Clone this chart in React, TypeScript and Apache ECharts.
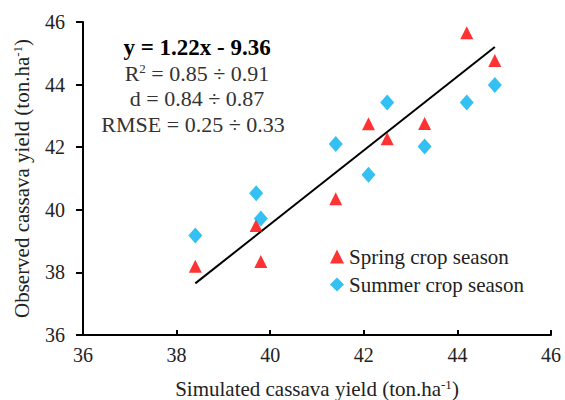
import React, { useEffect, useRef } from "react";
import * as echarts from "echarts";

const springX = [38.4, 39.7, 39.8, 41.4, 42.1, 42.5, 43.3, 44.2, 44.8];
const springY = [38.2, 39.5, 38.35, 40.35, 42.75, 42.27, 42.76, 45.66, 44.77];
const summerX = [38.4, 39.7, 39.8, 41.4, 42.1, 42.5, 43.3, 44.2, 44.8];
const summerY = [39.18, 40.53, 39.72, 42.1, 41.12, 43.43, 42.02, 43.43, 43.99];
const lineX = [38.4, 44.8];
const lineY = [37.65, 45.2];
const seriesNames = ["Spring crop season", "Summer crop season"];
const statLines = ["y = 1.22x - 9.36", "= 0.85 ÷ 0.91", "d = 0.84 ÷ 0.87", "RMSE = 0.25 ÷ 0.33"];

const FONT = "'Liberation Serif', 'Times New Roman', serif";

export default function App() {
  const ref = useRef<HTMLDivElement>(null);
  useEffect(() => {
    if (!ref.current) return;
    const chart = echarts.init(ref.current, undefined, { renderer: "svg" });
    chart.setOption({
      animation: false,
      backgroundColor: "#ffffff",
      textStyle: { fontFamily: FONT },
      grid: { left: 83, right: 14, top: 22, bottom: 65, containLabel: false, outerBoundsMode: "none" },
      xAxis: {
        type: "value",
        min: 36,
        max: 46,
        interval: 2,
        splitLine: { show: false },
        axisLine: { onZero: false, lineStyle: { color: "#000", width: 2 } },
        axisTick: { inside: true, length: 5, lineStyle: { color: "#000", width: 2 } },
        axisLabel: { color: "#222", fontSize: 20, fontFamily: FONT, margin: 10 },
        name: "Simulated cassava yield (ton.ha{sup|-1})",
        nameLocation: "middle",
        nameGap: 43,
        nameTextStyle: {
          color: "#222",
          fontSize: 21,
          fontFamily: FONT,
          rich: { sup: { fontSize: 13, fontFamily: FONT, color: "#222", padding: [0, 0, 9, 0] } },
        },
      },
      yAxis: {
        type: "value",
        min: 36,
        max: 46,
        interval: 2,
        splitLine: { show: false },
        axisLine: { onZero: false, lineStyle: { color: "#000", width: 2 } },
        axisTick: { inside: false, length: 7, lineStyle: { color: "#000", width: 2 } },
        axisLabel: { color: "#222", fontSize: 20, fontFamily: FONT, margin: 18 },
        name: "Observed cassava yield (ton.ha{sup|-1})",
        nameLocation: "middle",
        nameGap: 50,
        nameTextStyle: {
          color: "#222",
          fontSize: 21,
          fontFamily: FONT,
          rich: { sup: { fontSize: 13, fontFamily: FONT, color: "#222", padding: [0, 0, 9, 0] } },
        },
      },
      legend: {
        data: seriesNames,
        orient: "vertical",
        left: 325,
        top: 241,
        itemWidth: 14,
        itemHeight: 14,
        itemGap: 7,
        textStyle: { fontSize: 21, fontFamily: FONT, color: "#222" },
      },
      graphic: [
        {
          type: "text",
          x: 197,
          y: 47,
          style: { text: statLines[0], font: `bold 23px ${FONT}`, fill: "#000", align: "center", verticalAlign: "middle" },
        },
        {
          type: "text",
          x: 197,
          y: 73,
          style: {
            text: "R{sup|2} " + statLines[1],
            font: `22px ${FONT}`,
            fill: "#333",
            align: "center",
            verticalAlign: "middle",
            rich: { sup: { fontSize: 13, fontFamily: FONT, fill: "#333", padding: [0, 0, 9, 0] } },
          },
        },
        {
          type: "text",
          x: 197,
          y: 98,
          style: { text: statLines[2], font: `22px ${FONT}`, fill: "#333", align: "center", verticalAlign: "middle" },
        },
        {
          type: "text",
          x: 193,
          y: 124,
          style: { text: statLines[3], font: `22px ${FONT}`, fill: "#333", align: "center", verticalAlign: "middle" },
        },
      ],
      series: [
        {
          name: seriesNames[0],
          type: "scatter",
          symbol: "triangle",
          symbolSize: 13,
          itemStyle: { color: "#ff0000" },
          data: springX.map((x, i) => [x, springY[i]]),
          z: 3,
        },
        {
          name: seriesNames[1],
          type: "scatter",
          symbol: "diamond",
          symbolSize: [14, 16],
          itemStyle: { color: "#00b0f0" },
          data: summerX.map((x, i) => [x, summerY[i]]),
          z: 3,
        },
        {
          name: "fit",
          type: "line",
          symbol: "none",
          lineStyle: { color: "#000", width: 2 },
          data: lineX.map((x, i) => [x, lineY[i]]),
          z: 2,
        },
      ],
    });
    return () => chart.dispose();
  }, []);
  return <div ref={ref} style={{ position: "fixed", left: 0, top: 0, width: 565, height: 400 }} />;
}
